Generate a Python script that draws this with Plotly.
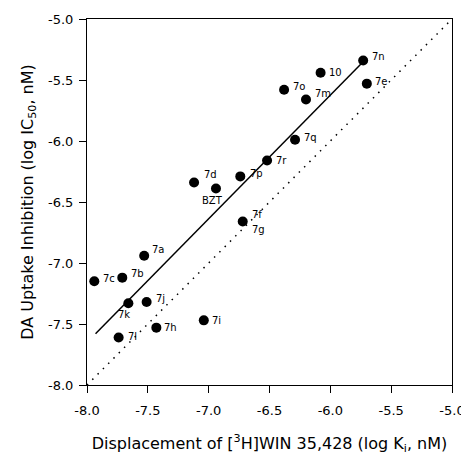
import plotly.graph_objects as go

# compound labels and values ("7f/7g" share one point)
compounds = ["7n", "7e", "10", "7o", "7m", "7q", "7r", "7p", "7d", "BZT",
             "7f/7g", "7a", "7c", "7b", "7k", "7j", "7h", "7l", "7i"]
ki_log = [-5.73, -5.70, -6.08, -6.38, -6.20, -6.29, -6.52, -6.74, -7.12, -6.94,
          -6.72, -7.53, -7.94, -7.71, -7.66, -7.51, -7.43, -7.74, -7.04]
ic50_log = [-5.34, -5.53, -5.44, -5.58, -5.66, -5.99, -6.16, -6.29, -6.34, -6.39,
            -6.66, -6.94, -7.15, -7.12, -7.33, -7.32, -7.53, -7.61, -7.47]

# regression line and identity line
fit_x = [-7.93, -5.73]
fit_y = [-7.58, -5.35]
unity = [-8.0, -5.0]

ticks = [-8.0, -7.5, -7.0, -6.5, -6.0, -5.5, -5.0]

# label placement relative to the marker (px): xshift, yshift, anchor
label_offsets = {
    "7n": (7, 4, "left"), "7e": (6, 2, "left"), "10": (6, 0, "left"),
    "7o": (7, 3, "left"), "7m": (7, 6, "left"), "7q": (7, 2, "left"),
    "7r": (7, 0, "left"), "7p": (8, 3, "left"), "7d": (8, 8, "left"),
    "BZT": (-3, -12, "center"), "7f": (7, 7, "left"), "7g": (7, -8, "left"),
    "7a": (6, 6, "left"), "7c": (7, 3, "left"), "7b": (7, 4, "left"),
    "7k": (-4, -11, "center"), "7j": (7, 4, "left"), "7h": (6, 0, "left"),
    "7l": (7, 1, "left"), "7i": (6, 0, "left"),
}

font_family = "DejaVu Sans, Liberation Sans, Arial, sans-serif"

fig = go.Figure()

fig.add_trace(go.Scatter(x=unity, y=unity, mode="lines",
                         line=dict(color="black", width=1.5, dash="1.5px,6px"),
                         hoverinfo="skip"))
fig.add_trace(go.Scatter(x=fit_x, y=fit_y, mode="lines",
                         line=dict(color="black", width=1.5),
                         hoverinfo="skip"))
fig.add_trace(go.Scatter(x=ki_log, y=ic50_log, mode="markers",
                         text=compounds, hoverinfo="text",
                         marker=dict(color="black", size=10)))

for name, x, y in zip(compounds, ki_log, ic50_log):
    for part in name.split("/"):
        dx, dy, anchor = label_offsets[part]
        fig.add_annotation(x=x, y=y, text=part, showarrow=False,
                           xanchor=anchor, yanchor="middle",
                           xshift=dx, yshift=dy,
                           font=dict(size=10, color="black", family=font_family))

axis_common = dict(
    range=[-8.0, -5.0], tickvals=ticks, ticktext=[f"{v:.1f}" for v in ticks],
    showgrid=False, zeroline=False, showline=True, linecolor="black",
    linewidth=1, mirror=True, ticks="outside", ticklen=7, tickcolor="black",
    tickfont=dict(size=13, color="black"), automargin=False,
)

fig.update_xaxes(title=dict(text="Displacement of [<sup>3</sup>H]WIN 35,428 (log K<sub>i</sub>, nM)",
                            font=dict(size=16, color="black"), standoff=22),
                 ticklabelstandoff=6, **axis_common)
fig.update_yaxes(title=dict(text="DA Uptake Inhibition (log IC<sub>50</sub>, nM)",
                            font=dict(size=16, color="black"), standoff=10),
                 ticklabelstandoff=3, **axis_common)

# the page body adds an 8px offset, so the figure is drawn slightly smaller
fig.update_layout(
    width=461, height=447,
    margin=dict(l=79, r=17, t=11, b=70),
    showlegend=False,
    plot_bgcolor="white", paper_bgcolor="white",
    font=dict(family=font_family),
)

fig.write_html("out.html")
